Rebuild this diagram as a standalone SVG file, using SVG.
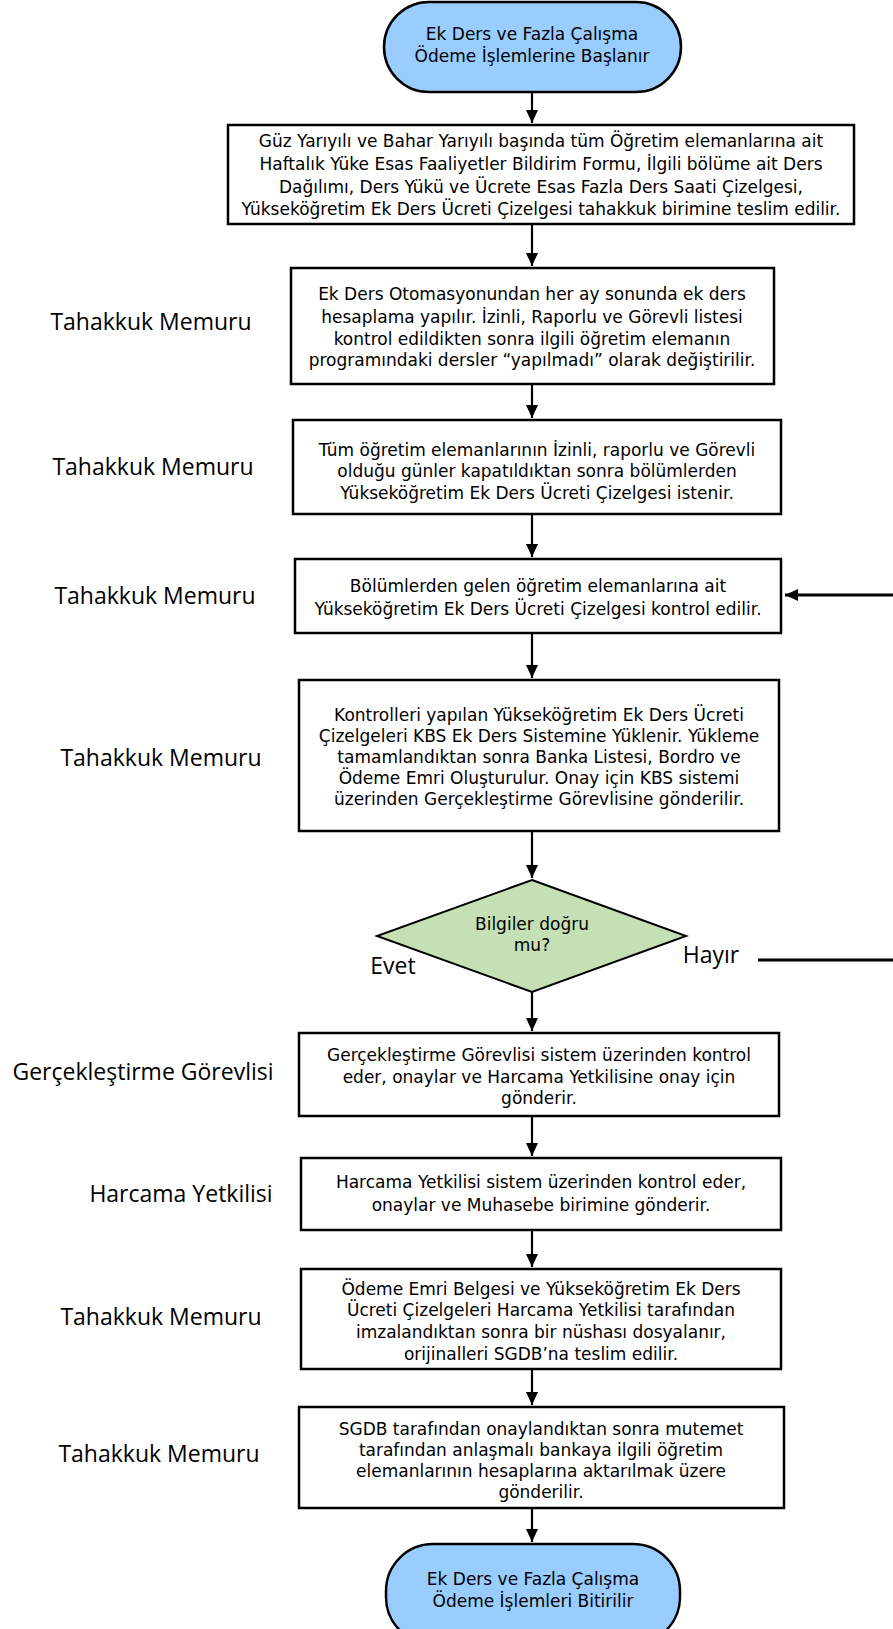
<svg xmlns="http://www.w3.org/2000/svg" width="893" height="1629" viewBox="0 0 893 1629">
<style>
.box{fill:#fff;stroke:#000;stroke-width:2.5}
.term{fill:#99CCFF;stroke:#000;stroke-width:2.5}
.dia{fill:#C5E0B4;stroke:#000;stroke-width:2}
.t{font-family:"DejaVu Sans","Open Sans",sans-serif;font-size:17px;fill:#000;text-anchor:middle}
.lbl{font-family:"Open Sans","DejaVu Sans",sans-serif;font-size:23px;fill:#000;text-anchor:middle}
.c{stroke:#000;stroke-width:2.2;fill:none}
.cw{stroke:#000;stroke-width:2.8;fill:none}
</style>
<defs>
<marker id="ah" markerUnits="userSpaceOnUse" markerWidth="14" markerHeight="14" viewBox="0 0 14 14" refX="13" refY="7" orient="auto">
<path d="M0,1 L13,7 L0,13 Z" fill="#000"/>
</marker>
</defs>
<rect width="893" height="1629" fill="#fff"/>

<g id="connectors">
<line class="c" x1="532" y1="93" x2="532" y2="123" marker-end="url(#ah)"/>
<line class="c" x1="532" y1="224" x2="532" y2="266" marker-end="url(#ah)"/>
<line class="c" x1="532" y1="384" x2="532" y2="418" marker-end="url(#ah)"/>
<line class="c" x1="532" y1="514" x2="532" y2="557" marker-end="url(#ah)"/>
<line class="c" x1="532" y1="633" x2="532" y2="678" marker-end="url(#ah)"/>
<line class="c" x1="532" y1="831" x2="532" y2="878" marker-end="url(#ah)"/>
<line class="c" x1="532" y1="992" x2="532" y2="1031" marker-end="url(#ah)"/>
<line class="c" x1="532" y1="1116" x2="532" y2="1156" marker-end="url(#ah)"/>
<line class="c" x1="532" y1="1230" x2="532" y2="1267" marker-end="url(#ah)"/>
<line class="c" x1="532" y1="1369" x2="532" y2="1405" marker-end="url(#ah)"/>
<line class="c" x1="532" y1="1508" x2="532" y2="1542" marker-end="url(#ah)"/>
<line class="cw" x1="893" y1="595" x2="785" y2="595" marker-end="url(#ah)"/>
<line class="cw" x1="758" y1="960" x2="893" y2="960"/>
</g>

<g id="start">
<rect class="term" x="384" y="2" width="297" height="90" rx="45" ry="45"/>
<text class="t" x="532" y="40">Ek Ders ve Fazla Çalışma</text>
<text class="t" x="532" y="62">Ödeme İşlemlerine Başlanır</text>
</g>

<g id="step1">
<rect class="box" x="228" y="125" width="626" height="99"/>
<text class="t" x="541" y="147">Güz Yarıyılı ve Bahar Yarıyılı başında tüm Öğretim elemanlarına ait</text>
<text class="t" x="541" y="170">Haftalık Yüke Esas Faaliyetler Bildirim Formu, İlgili bölüme ait Ders</text>
<text class="t" x="541" y="193">Dağılımı, Ders Yükü ve Ücrete Esas Fazla Ders Saati Çizelgesi,</text>
<text class="t" x="541" y="215">Yükseköğretim Ek Ders Ücreti Çizelgesi tahakkuk birimine teslim edilir.</text>
</g>

<g id="step2">
<text class="lbl" x="151" y="330">Tahakkuk Memuru</text>
<rect class="box" x="291" y="268" width="483" height="116"/>
<text class="t" x="532" y="300">Ek Ders Otomasyonundan her ay sonunda ek ders</text>
<text class="t" x="532" y="323">hesaplama yapılır. İzinli, Raporlu ve Görevli listesi</text>
<text class="t" x="532" y="345">kontrol edildikten sonra ilgili öğretim elemanın</text>
<text class="t" x="532" y="366">programındaki dersler “yapılmadı” olarak değiştirilir.</text>
</g>

<g id="step3">
<text class="lbl" x="153" y="475">Tahakkuk Memuru</text>
<rect class="box" x="293" y="420" width="488" height="94"/>
<text class="t" x="537" y="456">Tüm öğretim elemanlarının İzinli, raporlu ve Görevli</text>
<text class="t" x="537" y="477">olduğu günler kapatıldıktan sonra bölümlerden</text>
<text class="t" x="537" y="499">Yükseköğretim Ek Ders Ücreti Çizelgesi istenir.</text>
</g>

<g id="step4">
<text class="lbl" x="155" y="604">Tahakkuk Memuru</text>
<rect class="box" x="295" y="559" width="486" height="74"/>
<text class="t" x="538" y="592">Bölümlerden gelen öğretim elemanlarına ait</text>
<text class="t" x="538" y="615">Yükseköğretim Ek Ders Ücreti Çizelgesi kontrol edilir.</text>
</g>

<g id="step5">
<text class="lbl" x="161" y="766">Tahakkuk Memuru</text>
<rect class="box" x="299" y="680" width="480" height="151"/>
<text class="t" x="539" y="721">Kontrolleri yapılan Yükseköğretim Ek Ders Ücreti</text>
<text class="t" x="539" y="742">Çizelgeleri KBS Ek Ders Sistemine Yüklenir. Yükleme</text>
<text class="t" x="539" y="763">tamamlandıktan sonra Banka Listesi, Bordro ve</text>
<text class="t" x="539" y="784">Ödeme Emri Oluşturulur. Onay için KBS sistemi</text>
<text class="t" x="539" y="805">üzerinden Gerçekleştirme Görevlisine gönderilir.</text>
</g>

<g id="decision">
<polygon class="dia" points="532,880 686,936 532,992 377,936"/>
<text class="t" x="532" y="930">Bilgiler doğru</text>
<text class="t" x="532" y="951">mu?</text>
<text class="lbl" x="393" y="974">Evet</text>
<text class="lbl" x="711" y="963">Hayır</text>
</g>

<g id="step6">
<text class="lbl" x="143" y="1080">Gerçekleştirme Görevlisi</text>
<rect class="box" x="299" y="1033" width="480" height="83"/>
<text class="t" x="539" y="1061">Gerçekleştirme Görevlisi sistem üzerinden kontrol</text>
<text class="t" x="539" y="1083">eder, onaylar ve Harcama Yetkilisine onay için</text>
<text class="t" x="539" y="1104">gönderir.</text>
</g>

<g id="step7">
<text class="lbl" x="181" y="1202">Harcama Yetkilisi</text>
<rect class="box" x="301" y="1158" width="480" height="72"/>
<text class="t" x="541" y="1188">Harcama Yetkilisi sistem üzerinden kontrol eder,</text>
<text class="t" x="541" y="1211">onaylar ve Muhasebe birimine gönderir.</text>
</g>

<g id="step8">
<text class="lbl" x="161" y="1325">Tahakkuk Memuru</text>
<rect class="box" x="301" y="1269" width="480" height="100"/>
<text class="t" x="541" y="1295">Ödeme Emri Belgesi ve Yükseköğretim Ek Ders</text>
<text class="t" x="541" y="1316">Ücreti Çizelgeleri Harcama Yetkilisi tarafından</text>
<text class="t" x="541" y="1338">imzalandıktan sonra bir nüshası dosyalanır,</text>
<text class="t" x="541" y="1360">orijinalleri SGDB’na teslim edilir.</text>
</g>

<g id="step9">
<text class="lbl" x="159" y="1462">Tahakkuk Memuru</text>
<rect class="box" x="299" y="1407" width="485" height="101"/>
<text class="t" x="541" y="1435">SGDB tarafından onaylandıktan sonra mutemet</text>
<text class="t" x="541" y="1456">tarafından anlaşmalı bankaya ilgili öğretim</text>
<text class="t" x="541" y="1477">elemanlarının hesaplarına aktarılmak üzere</text>
<text class="t" x="541" y="1498">gönderilir.</text>
</g>

<g id="end">
<rect class="term" x="386" y="1544" width="294" height="100" rx="47" ry="47"/>
<text class="t" x="533" y="1585">Ek Ders ve Fazla Çalışma</text>
<text class="t" x="533" y="1607">Ödeme İşlemleri Bitirilir</text>
</g>
</svg>
